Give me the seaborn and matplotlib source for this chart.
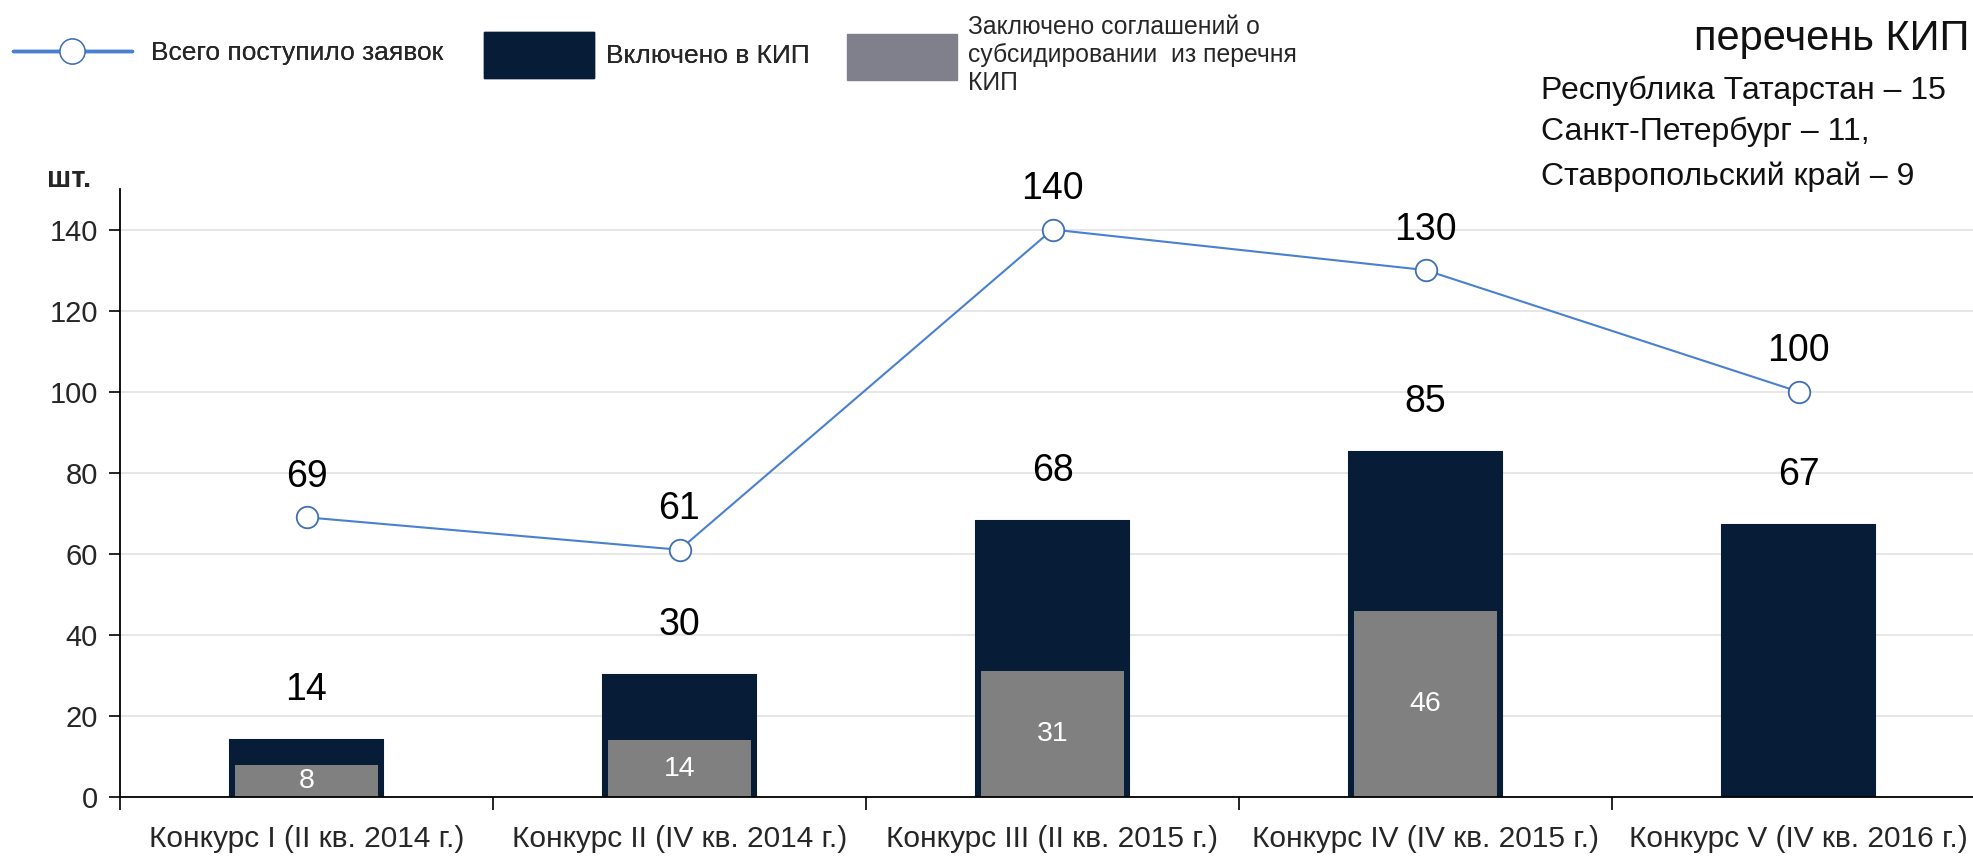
import matplotlib
matplotlib.use("Agg")
import matplotlib.pyplot as plt
import seaborn as sns
import pandas as pd
import numpy as np
from matplotlib.lines import Line2D
from matplotlib.patches import Patch

categories = ["Конкурс I (II кв. 2014 г.)", "Конкурс II (IV кв. 2014 г.)",
              "Конкурс III (II кв. 2015 г.)", "Конкурс IV (IV кв. 2015 г.)",
              "Конкурс V (IV кв. 2016 г.)"]
total_applications = [69, 61, 140, 130, 100]
included_kip = [14, 30, 68, 85, 67]
agreements = [8, 14, 31, 46, 0]
yticks = [0, 20, 40, 60, 80, 100, 120, 140]
regions = ["Республика Татарстан – 15", "Санкт-Петербург – 11,", "Ставропольский край – 9"]

DARK = "#061C37"
GREY = "#808080"
GREY_LEG = "#80808C"
BLUE = "#4A80D0"
BLUE_EDGE = "#3F6FB5"

sns.set_theme(style="white")
plt.rcParams['font.family'] = ['Liberation Sans', 'DejaVu Sans']

df = pd.DataFrame({"cat": categories, "total": total_applications,
                   "kip": included_kip, "agr": agreements})

W, H = 1973, 856
fig = plt.figure(figsize=(W / 100, H / 100), dpi=100)
ax = fig.add_axes([120 / W, 59 / H, 1865 / W, (797 - 189) / H])

sns.barplot(data=df, x="cat", y="kip", color=DARK, width=0.41, ax=ax,
            edgecolor=DARK, linewidth=1.5, saturation=1)
sns.barplot(data=df[df["agr"] > 0], x="cat", y="agr", color=GREY, width=0.385, ax=ax,
            linewidth=0, saturation=1, order=categories)
sns.pointplot(data=df, x="cat", y="total", color=BLUE, ax=ax, markers="o",
              linewidth=1.5, markersize=15.5, order=categories,
              markerfacecolor="white", markeredgecolor=BLUE_EDGE, markeredgewidth=1.3)

ax.set_ylim(0, 150)
ax.set_xlim(-0.5, 4.5)
ax.set_yticks(yticks)
ax.set_xlabel("")
ax.set_ylabel("")
ax.yaxis.grid(True, color="#E3E3E3", linewidth=1.2)
ax.set_axisbelow(True)
for s in ["top", "right"]:
    ax.spines[s].set_visible(False)
for s in ["left", "bottom"]:
    ax.spines[s].set_color("black")
    ax.spines[s].set_linewidth(1.3)
ax.tick_params(axis="y", which="major", length=8, width=1.2, color="black",
               labelsize=21, pad=8, left=True)
ax.tick_params(axis="x", which="major", length=0, labelsize=21.5, pad=20)
ax.set_xticks(np.arange(-0.5, 5, 1), minor=True)
ax.tick_params(axis="x", which="minor", length=9, width=1.2, color="black", bottom=True)

for i, v in enumerate(included_kip):
    ax.text(i, v + 12.5, str(v), ha="center", va="center", fontsize=27, color="black")
for i, v in enumerate(agreements):
    if v > 0:
        ax.text(i, v / 2, str(v), ha="center", va="center", fontsize=20.5, color="white")
for i, v in enumerate(total_applications):
    ax.text(i, v + 10, str(v), ha="center", va="center", fontsize=27, color="black")

fig.text(69 / W, 1 - 179 / H, "шт.", fontsize=21, fontweight="bold", ha="center", va="center")

# legends
h1 = Line2D([], [], color=BLUE, linewidth=2.5, marker="o", markersize=18,
            markerfacecolor="white", markeredgecolor=BLUE_EDGE, markeredgewidth=1)
leg1 = fig.legend([h1], ["Всего поступило заявок"], loc="center left",
                  bbox_to_anchor=(13 / W, 1 - 53 / H), frameon=False, fontsize=19,
                  handlelength=4.5, handletextpad=0.72, borderpad=0, borderaxespad=0)
h2 = Patch(facecolor=DARK, edgecolor=DARK)
leg2 = fig.legend([h2], ["Включено в КИП"], loc="center left",
                  bbox_to_anchor=(484 / W, 1 - 55 / H), frameon=False, fontsize=19,
                  handlelength=4.17, handleheight=2.36, handletextpad=0.45,
                  borderpad=0, borderaxespad=0)
h3 = Patch(facecolor=GREY_LEG, edgecolor=GREY_LEG)
leg3 = fig.legend([h3], ["Заключено соглашений о\nсубсидировании  из перечня\nКИП"],
                  loc="center left", bbox_to_anchor=(847 / W, 1 - 55 / H), frameon=False,
                  fontsize=17.8, handlelength=4.45, handleheight=2.45, handletextpad=0.45,
                  borderpad=0, borderaxespad=0)
fig.add_artist(leg1)
fig.add_artist(leg2)

fig.text(1969 / W, 1 - 39 / H, "перечень КИП", fontsize=30, ha="right", va="center", color="#111111")
for txt, y in zip(regions, [91, 132, 177]):
    fig.text(1541 / W, 1 - y / H, txt, fontsize=23, ha="left", va="center", color="#111111")

fig.savefig("out.png", dpi=100)
